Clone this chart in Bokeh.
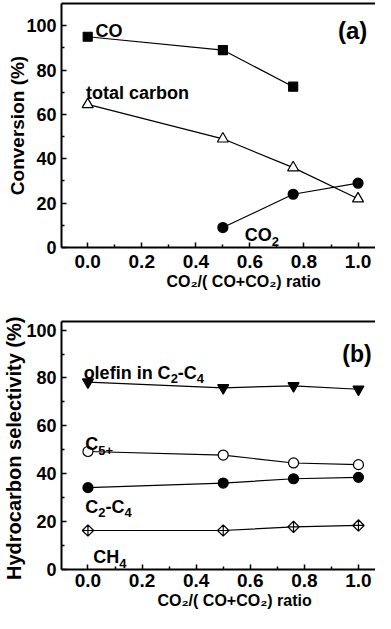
import math
from bokeh.plotting import figure
from bokeh.models import Label, LinearAxis, FixedTicker, Range1d, PrintfTickFormatter, Title
from bokeh.layouts import column
from bokeh.embed import file_html
from bokeh.resources import INLINE

# ---------------- data ----------------
# panel (a): conversion
ratio_co = [0.0, 0.5, 0.76]
conv_co = [95.0, 89.0, 72.5]
ratio_total = [0.0, 0.5, 0.76, 1.0]
conv_total = [64.5, 49.0, 36.0, 22.0]
ratio_co2 = [0.5, 0.76, 1.0]
conv_co2 = [9.0, 24.0, 29.0]

# panel (b): hydrocarbon selectivity
ratio_b = [0.0, 0.5, 0.76, 1.0]
sel_olefin = [78.3, 75.9, 76.7, 75.3]
sel_c5 = [49.3, 47.8, 44.5, 43.8]
sel_c2c4 = [34.2, 36.1, 37.9, 38.5]
sel_ch4 = [16.3, 16.3, 17.8, 18.4]

x_ticks = [0.0, 0.2, 0.4, 0.6, 0.8, 1.0]
x_minor = [0.1, 0.3, 0.5, 0.7, 0.9]
y_ticks = [0, 20, 40, 60, 80, 100]
y_minor = [10, 30, 50, 70, 90]

x_title = "CO\u2082/( CO+CO\u2082)  ratio"
ya_title = "Conversion (%)"
yb_title = "Hydrocarbon  selectivity (%)"

FONT = "Liberation Sans"

# Arial/Liberation Sans Bold advance widths (1/1000 em)
W = {' ': 278, '(': 333, ')': 333, '+': 584, '-': 333, '.': 278, '/': 278, '%': 889,
     'C': 722, 'H': 722, 'O': 778, 'a': 556, 'b': 611, 'c': 556, 'd': 611, 'e': 556,
     'f': 333, 'i': 278, 'l': 278, 'n': 611, 'o': 611, 'r': 389, 't': 333, 'v': 556,
     'y': 556, 's': 556}


def text_w(s, size):
    return sum(W.get(c, 556) for c in s) * size / 1000.0


def rich(fig, x, y, pieces, size, sub_size, sub_dy):
    cur = 0.0
    for t, sub in pieces:
        fs = sub_size if sub else size
        fig.add_layout(Label(x=x, y=y, x_offset=cur, y_offset=-(sub_dy if sub else 0),
                             text=t, text_font=FONT, text_font_style="bold",
                             text_font_size=f"{fs}px", text_color="black",
                             text_baseline="alphabetic", text_align="left"))
        cur += text_w(t, fs)


def style_axis(ax, standoff, size):
    ax.axis_line_width = 2
    ax.axis_line_color = "black"
    ax.major_tick_in = 5
    ax.major_tick_out = 0
    ax.minor_tick_in = 3
    ax.minor_tick_out = 0
    ax.major_tick_line_width = 1.5
    ax.minor_tick_line_width = 1.5
    ax.major_tick_line_color = "black"
    ax.minor_tick_line_color = "black"
    ax.major_label_text_font = FONT
    ax.major_label_text_font_style = "bold"
    ax.major_label_text_font_size = size
    ax.major_label_text_color = "black"
    ax.major_label_standoff = standoff
    ax.axis_label_text_font = FONT
    ax.axis_label_text_font_style = "bold"
    ax.axis_label_text_color = "black"


def make_fig(width, height, xr, yr, left, top, bottom, bstandoff,
             ytitle, ytitle_size, ytitle_standoff, xtitle_offset):
    p = figure(width=width, height=height, x_range=Range1d(*xr), y_range=Range1d(*yr),
               output_backend="svg", toolbar_location=None, x_axis_type=None, y_axis_type=None,
               min_border_left=left, min_border_right=0, min_border_top=top,
               min_border_bottom=bottom)
    p.outline_line_color = None
    p.background_fill_color = "white"
    p.border_fill_color = "white"
    xa = LinearAxis(ticker=FixedTicker(ticks=x_ticks, minor_ticks=x_minor),
                    formatter=PrintfTickFormatter(format="%.1f"))
    style_axis(xa, bstandoff, "19px")
    p.add_layout(xa, "below")
    p.add_layout(Title(text=x_title, align="left", offset=xtitle_offset,
                       standoff=0, text_font=FONT, text_font_style="bold",
                       text_font_size="16px", text_color="black"), "below")
    ya = LinearAxis(ticker=FixedTicker(ticks=y_ticks, minor_ticks=y_minor),
                    formatter=PrintfTickFormatter(format="%d"))
    style_axis(ya, 5, "18px")
    ya.axis_label = ytitle
    ya.axis_label_text_font_size = ytitle_size
    ya.axis_label_standoff = ytitle_standoff
    p.add_layout(ya, "left")
    ta = LinearAxis(ticker=FixedTicker(ticks=[]), axis_line_width=2, axis_line_color="black",
                    major_tick_line_color=None, minor_tick_line_color=None)
    p.add_layout(ta, "above")
    return p


def series(p, xs, ys, marker, size, fill, angle=0.0):
    p.line(xs, ys, line_color="black", line_width=1.2)
    p.scatter(xs, ys, marker=marker, size=size, fill_color=fill, line_color="black",
              line_width=1.2, angle=angle)


# ---------------- panel (a) ----------------
xa_range = (-0.0969, 1.0646)
pa = make_fig(375, 297, xa_range, (0, 110), 55, 3, 50, 7, ya_title, "19px", -5, 105)
series(pa, ratio_co, conv_co, "square", 9, "black")
series(pa, ratio_total, conv_total, "triangle", 11, "white")
series(pa, ratio_co2, conv_co2, "circle", 10, "black")

rich(pa, 0.029, 97.6, [("CO", False)], 18, 13, 6)
rich(pa, -0.006, 69.6, [("total carbon", False)], 18, 13, 6)
rich(pa, 0.581, 5.5, [("CO", False), ("2", True)], 18, 13, 6)
rich(pa, 0.926, 98.0, [("(a)", False)], 24, 16, 6)

# ---------------- panel (b) ----------------
xb_range = (-0.0978, 1.063)
pb = make_fig(375, 316, xb_range, (0, 103.6), 58, 24, 44, 4, yb_title, "20px", -2, 96)
series(pb, ratio_b, sel_olefin, "inverted_triangle", 11, "black")
series(pb, ratio_b, sel_c5, "circle", 10, "white")
series(pb, ratio_b, sel_c2c4, "circle", 10, "black")
series(pb, ratio_b, sel_ch4, "square_x", 8, "white", angle=math.pi / 4)

rich(pb, -0.016, 82.1, [("olefin in C", False), ("2", True), ("-C", False), ("4", True)], 18, 13, 6)
rich(pb, -0.01, 52.3, [("C", False), ("5+", True)], 18, 13, 6)
rich(pb, -0.01, 26.3, [("C", False), ("2", True), ("-C", False), ("4", True)], 18, 13, 6)
rich(pb, 0.02, 5.05, [("CH", False), ("4", True)], 18, 13, 6)
rich(pb, 0.94, 90.0, [("(b)", False)], 23, 16, 6)

layout = column(pa, pb)
open("out.html", "w").write(file_html(layout, INLINE))
